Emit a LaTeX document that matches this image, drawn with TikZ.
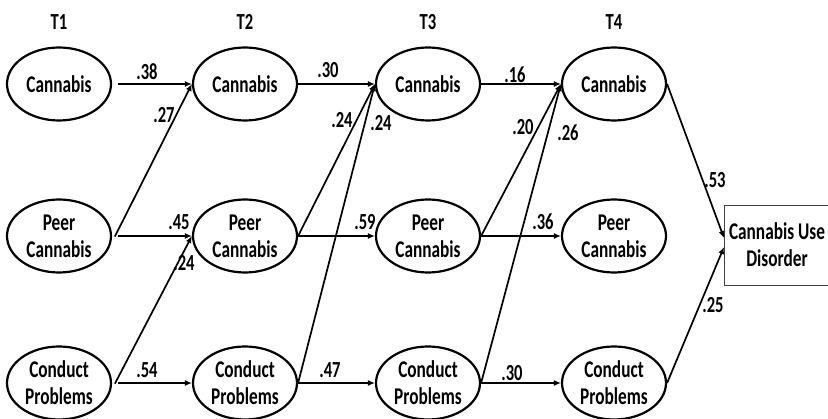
\documentclass[tikz,border=0pt]{standalone}
\usepackage{fontspec}
\usepackage{graphicx}
\setmainfont{Carlito}
\usetikzlibrary{shapes.geometric,arrows.meta}
\newcommand{\nrw}[1]{\scalebox{0.72}[1]{#1}}
\begin{document}
\begin{tikzpicture}[x=1pt,y=-1pt,
  lat/.style={ellipse,draw,line width=2.2pt,minimum width=104pt,minimum height=73pt,inner sep=0pt,align=center,font=\fontsize{24}{27}\selectfont\bfseries},
  ttl/.style={font=\fontsize{23}{26}\selectfont\bfseries},
  coef/.style={font=\fontsize{23}{26}\selectfont\bfseries,inner sep=0pt},
  path/.style={line width=1.7pt,-{Latex[length=7pt,width=6pt]}},
  hpath/.style={line width=2.4pt,-{Latex[length=7pt,width=6pt]}}
]
\useasboundingbox (0,0) rectangle (828,419);
% titles
\node[ttl] (t1) at (59,22) {\nrw{T1}};
\node[ttl] (t2) at (245,22) {\nrw{T2}};
\node[ttl] (t3) at (428,22) {\nrw{T3}};
\node[ttl] (t4) at (614,22) {\nrw{T4}};
% latent nodes
\node[lat] (c1) at (59,84) {\nrw{Cannabis}};
\node[lat] (c2) at (245,84) {\nrw{Cannabis}};
\node[lat] (c3) at (428,84) {\nrw{Cannabis}};
\node[lat] (c4) at (614,84) {\nrw{Cannabis}};
\node[lat] (p1) at (59,236) {\nrw{Peer}\\\nrw{Cannabis}};
\node[lat] (p2) at (245,236) {\nrw{Peer}\\\nrw{Cannabis}};
\node[lat] (p3) at (428,236) {\nrw{Peer}\\\nrw{Cannabis}};
\node[lat] (p4) at (614,236) {\nrw{Peer}\\\nrw{Cannabis}};
\node[lat] (k1) at (59,383) {\nrw{Conduct}\\\nrw{Problems}};
\node[lat] (k2) at (245,383) {\nrw{Conduct}\\\nrw{Problems}};
\node[lat] (k3) at (428,383) {\nrw{Conduct}\\\nrw{Problems}};
\node[lat] (k4) at (614,383) {\nrw{Conduct}\\\nrw{Problems}};
% outcome box
\draw[line width=0.9pt,draw=black!75] (724,205) rectangle (840,285);
\node[align=center,font=\fontsize{24}{27}\selectfont\bfseries] (cud) at (777,245) {\nrw{Cannabis Use}\\\nrw{Disorder}};
\coordinate (cudA) at (724,238);
\coordinate (cudB) at (724,247);
% T1 -> T2
\draw[hpath,shorten <=6pt] (c1.east) -- (c2.west);
\draw[hpath,shorten <=6pt] (p1.east) -- (p2.west);
\draw[hpath,shorten <=6pt] (k1.east) -- (k2.west);
\draw[path,shorten <=6pt] ([yshift=-6pt]p1.east) -- (c2.west);
\draw[path,shorten <=6pt] ([yshift=-6pt]k1.east) -- (p2.west);
% T2 -> T3
\draw[hpath] (c2.east) -- (c3.west);
\draw[hpath] (p2.east) -- (p3.west);
\draw[hpath] (k2.east) -- (k3.west);
\draw[path] (p2.east) -- (c3.west);
\draw[path] (k2.east) -- (c3.west);
% T3 -> T4
\draw[hpath] (c3.east) -- (c4.west);
\draw[hpath] (p3.east) -- (p4.west);
\draw[hpath] (k3.east) -- (k4.west);
\draw[path] (p3.east) -- (c4.west);
\draw[path] (k3.east) -- (c4.west);
% T4 -> CUD
\draw[path] (c4.east) -- (cudA);
\draw[path] (k4.east) -- (cudB);
% coefficients
\node[coef] (l1) at (147,72) {\nrw{.38}};
\node[coef] (l2) at (164,115) {\nrw{.27}};
\node[coef] (l3) at (179,222) {\nrw{.45}};
\node[coef] (l4) at (184,263) {\nrw{.24}};
\node[coef] (l5) at (147,370) {\nrw{.54}};
\node[coef] (l6) at (328,70) {\nrw{.30}};
\node[coef] (l7) at (342,120) {\nrw{.24}};
\node[coef] (l8) at (381,123) {\nrw{.24}};
\node[coef] (l9) at (365,222) {\nrw{.59}};
\node[coef] (l10) at (330,370) {\nrw{.47}};
\node[coef] (l11) at (515,75) {\nrw{.16}};
\node[coef] (l12) at (523,127) {\nrw{.20}};
\node[coef] (l13) at (568,133) {\nrw{.26}};
\node[coef] (l14) at (543,222) {\nrw{.36}};
\node[coef] (l15) at (512,373) {\nrw{.30}};
\node[coef] (l16) at (715,180) {\nrw{.53}};
\node[coef] (l17) at (713,305) {\nrw{.25}};
\end{tikzpicture}
\end{document}
